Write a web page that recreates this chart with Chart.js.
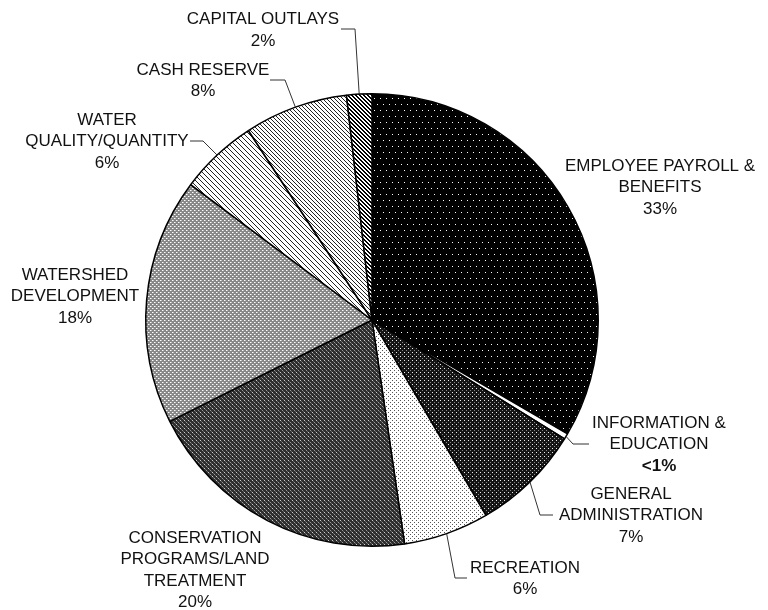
<!DOCTYPE html>
<html>
<head>
<meta charset="utf-8">
<script src="https://cdn.jsdelivr.net/npm/chart.js@4.4.0/dist/chart.umd.min.js"></script>
<style>
  html, body { margin: 0; padding: 0; background: #fff; }
  canvas { display: block; }
</style>
</head>
<body>
<canvas id="budgetPie" width="768" height="610"></canvas>
<script>
// budget categories, clockwise from 12 o'clock
const categories = [
  ["EMPLOYEE PAYROLL &", "BENEFITS"],
  ["INFORMATION &", "EDUCATION"],
  ["GENERAL", "ADMINISTRATION"],
  ["RECREATION"],
  ["CONSERVATION", "PROGRAMS/LAND", "TREATMENT"],
  ["WATERSHED", "DEVELOPMENT"],
  ["WATER", "QUALITY/QUANTITY"],
  ["CASH RESERVE"],
  ["CAPITAL OUTLAYS"]
];
const shares = [33.4, 0.4, 7.8, 6.1, 19.9, 17.6, 5.6, 7.4, 1.8];
const percentLabels = ["33%", "<1%", "7%", "6%", "20%", "18%", "6%", "8%", "2%"];

// where each label block sits, and the bend of its leader line (if any)
const labelLayout = [
  { x: 660, y: 166 },
  { x: 659, y: 423, elbow: [573, 444], end: [589, 444], boldPct: true },
  { x: 631, y: 494, elbow: [540, 515], end: [553, 515] },
  { x: 525, y: 568, elbow: [455, 578], end: [467, 578] },
  { x: 195, y: 538 },
  { x: 75, y: 275 },
  { x: 107, y: 120, elbow: [203, 141], end: [190, 141] },
  { x: 203, y: 70, elbow: [285, 80], end: [270, 80] },
  { x: 263, y: 19.5, elbow: [355, 29], end: [341, 29] }
];
const LINE_H = 21.5;

const canvas = document.getElementById("budgetPie");
const ctx = canvas.getContext("2d");

// small tiled fills, like the old print patterns
function makePattern(w, h, bg, dots) {
  const c = document.createElement("canvas");
  c.width = w; c.height = h;
  const g = c.getContext("2d");
  g.fillStyle = bg;
  g.fillRect(0, 0, w, h);
  dots.forEach(([x, y, col]) => { g.fillStyle = col; g.fillRect(x, y, 1, 1); });
  return ctx.createPattern(c, "repeat");
}
function diag(size, col, thick) {
  const d = [];
  for (let i = 0; i < size; i++) {
    for (let t = 0; t < thick; t++) d.push([(i + t) % size, i, col]);
  }
  return d;
}

const fills = [
  makePattern(6, 12, "#000", [[2, 2, "#fff"], [5, 8, "#fff"]]),
  "#fff",
  makePattern(4, 4, "#151515", [[0, 0, "#eee"], [2, 2, "#888"]]),
  makePattern(4, 4, "#fff", [[0, 0, "#555"], [2, 2, "#555"]]),
  makePattern(4, 4, "#2e2e2e", [[0, 0, "#ccc"], [2, 2, "#999"], [1, 1, "#666"], [3, 3, "#666"]]),
  makePattern(4, 4, "#888", [[0, 0, "#fff"], [2, 2, "#fff"], [1, 0, "#c4c4c4"], [3, 2, "#c4c4c4"]]),
  makePattern(5, 5, "#fff", diag(5, "#222", 1)),
  makePattern(4, 4, "#fff", diag(4, "#222", 1)),
  makePattern(4, 4, "#fff", diag(4, "#000", 2))
];

const calloutPlugin = {
  id: "callouts",
  afterDraw: (chart) => {
    const c = chart.ctx;
    const arcs = chart.getDatasetMeta(0).data;
    c.save();
    c.textAlign = "center";
    c.textBaseline = "middle";
    c.fillStyle = "#111";
    labelLayout.forEach((lay, i) => {
      const lines = categories[i].concat([percentLabels[i]]);
      lines.forEach((txt, k) => {
        const isPct = k === lines.length - 1;
        c.font = (isPct && lay.boldPct ? "bold " : "") + "17px 'Liberation Sans', Arial, sans-serif";
        c.fillText(txt, lay.x, lay.y + k * LINE_H);
      });
      if (lay.elbow) {
        const a = arcs[i];
        const mid = (a.startAngle + a.endAngle) / 2;
        const ax = a.x + a.outerRadius * Math.cos(mid);
        const ay = a.y + a.outerRadius * Math.sin(mid);
        c.beginPath();
        c.strokeStyle = "#333";
        c.lineWidth = 1;
        c.moveTo(ax, ay);
        c.lineTo(lay.elbow[0], lay.elbow[1]);
        c.lineTo(lay.end[0], lay.end[1]);
        c.stroke();
      }
    });
    c.restore();
  }
};

new Chart(ctx, {
  type: "pie",
  data: {
    labels: categories.map(l => l.join(" ")),
    datasets: [{
      data: shares,
      backgroundColor: fills,
      borderColor: "#000",
      borderWidth: 1.5
    }]
  },
  options: {
    responsive: false,
    animation: false,
    devicePixelRatio: 1,
    layout: { padding: { left: 145, right: 169, top: 93, bottom: 63 } },
    plugins: {
      legend: { display: false },
      tooltip: { enabled: false }
    }
  },
  plugins: [calloutPlugin]
});
</script>
</body>
</html>
